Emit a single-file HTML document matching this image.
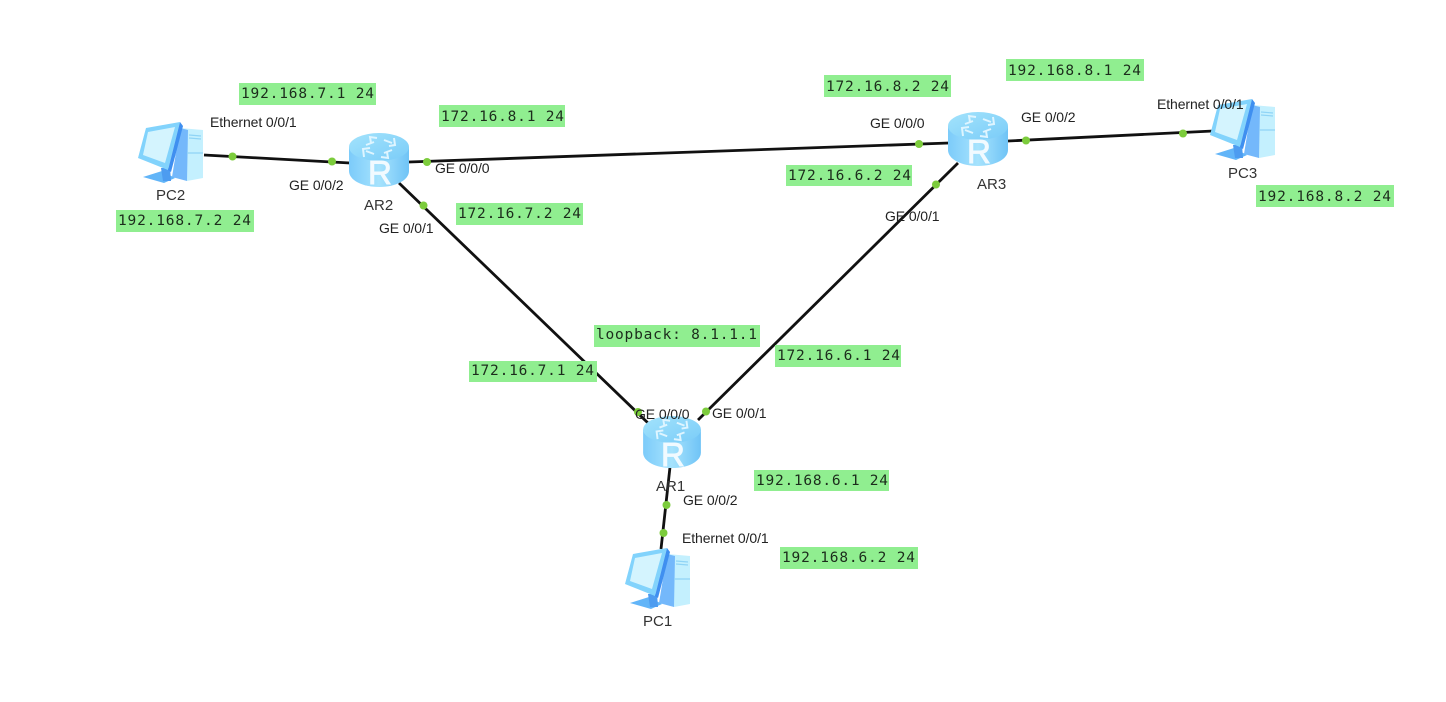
<!DOCTYPE html>
<html>
<head>
<meta charset="utf-8">
<style>
html,body{margin:0;padding:0;background:#fff;width:1446px;height:702px;overflow:hidden}
svg{display:block;filter:blur(.35px)}
.l{font-family:"Liberation Sans",sans-serif;font-size:14px;fill:#222;letter-spacing:-.1px}
.n{font-family:"Liberation Sans",sans-serif;font-size:15px;fill:#333}
.m{font-family:"DejaVu Sans Mono",monospace;font-size:14.500px;fill:#1c2c1c}
.b{fill:#90ee90}
.d{fill:#7ccc3c}
.c{stroke:#111;stroke-width:2.8;fill:none}
.r{font-family:"Liberation Sans",sans-serif;font-size:33px;fill:#f1faff;stroke:#f1faff;stroke-width:.9px}
</style>
</head>
<body>
<svg width="1446" height="702" viewBox="0 0 1446 702" xmlns="http://www.w3.org/2000/svg">
<defs>
<linearGradient id="rs" x1="0" x2="1" y1="0" y2="0">
<stop offset="0" stop-color="#7ccbfa"/><stop offset=".5" stop-color="#a6e3fd"/><stop offset="1" stop-color="#6fc3f6"/>
</linearGradient>
<linearGradient id="rt" x1="0" x2="1" y1="0" y2="1">
<stop offset="0" stop-color="#a3e3fc"/><stop offset="1" stop-color="#7accf8"/>
</linearGradient>
<symbol id="router" viewBox="0 0 60 54" overflow="visible">
<path d="M0 14V38C0 47 13 54 30 54S60 47 60 38V14Z" fill="url(#rs)"/>
<ellipse cx="30" cy="14" rx="30" ry="14" fill="url(#rt)"/>
<g stroke="#dff5ff" stroke-width="2" fill="none">
<path d="M17 12L25 9M28 5L21 4L22 10"/>
<path d="M43 17L35 20M32 24L39 25L38 19"/>
<path d="M35 7L43 10M45 5L46 12L40 13"/>
<path d="M25 21L17 18M15 24L14 16L21 15"/>
</g>
</symbol>
<symbol id="pc" viewBox="0 0 67 61" overflow="visible">
<path d="M42 6L65 8V56L49 59Z" fill="#c4f0fe"/>
<path d="M42 6L50 8L49 59L34 55Z" fill="#74b8fb"/>
<path d="M51 13L63 14M51 16L63 17M49 31L65 31" stroke="#8fd4f6" stroke-width="1.2" fill="none"/>
<path d="M5 55L24 49L37 56L26 61Z" fill="#62b5f8"/>
<path d="M23 46H32L33 59L25 59Z" fill="#4d9cf0"/>
<path d="M8 6L42 0L30 48L0 36Z" fill="#82d3fc"/>
<path d="M10 10L37 5L27 41L5 33Z" fill="#d4f4fe"/>
<path d="M42 0L45 4L33 50L30 48Z" fill="#3f8ff0"/>
</symbol>
</defs>

<!-- Connectors -->
<line class="c" x1="204" y1="155" x2="350" y2="163"/>
<line class="c" x1="409" y1="162" x2="949" y2="143"/>
<line class="c" x1="1008" y1="141" x2="1213" y2="131"/>
<line class="c" x1="399" y1="183" x2="648" y2="423"/>
<line class="c" x1="958" y1="163" x2="698" y2="420"/>
<line class="c" x1="670" y1="467" x2="661" y2="549"/>

<!-- Devices -->
<use href="#router" x="349" y="133" width="60" height="54"/>
<use href="#router" x="948" y="112" width="60" height="54"/>
<use href="#router" x="642" y="416" width="60" height="52"/>
<text class="r" x="368" y="184">R</text>
<text class="r" x="967" y="163">R</text>
<text class="r" x="661" y="466">R</text>
<use href="#pc" x="138" y="122" width="67" height="61"/>
<use href="#pc" x="1210" y="99" width="67" height="61"/>
<use href="#pc" x="625" y="548" width="67" height="61"/>

<!-- Port dots -->
<g class="d">
<circle cx="232.500" cy="156.500" r="4"/>
<circle cx="332" cy="161.500" r="4"/>
<circle cx="427" cy="162" r="4"/>
<circle cx="423.500" cy="205.500" r="4"/>
<circle cx="919" cy="144" r="4"/>
<circle cx="936" cy="184.500" r="4"/>
<circle cx="1026" cy="140.500" r="4"/>
<circle cx="1183" cy="133.500" r="4"/>
<circle cx="638" cy="412" r="4"/>
<circle cx="706" cy="411.500" r="4"/>
<circle cx="666.500" cy="505" r="4"/>
<circle cx="663.500" cy="533" r="4"/>
</g>

<!-- Green labels -->
<g class="b">
<rect x="239" y="83" width="137" height="22"/>
<rect x="116" y="210" width="138" height="22"/>
<rect x="439" y="105" width="126" height="22"/>
<rect x="456" y="203" width="127" height="22"/>
<rect x="824" y="75" width="127" height="22"/>
<rect x="1006" y="59" width="138" height="22"/>
<rect x="786" y="165" width="126" height="21"/>
<rect x="1256" y="185" width="138" height="22"/>
<rect x="594" y="325" width="166" height="22"/>
<rect x="469" y="361" width="128" height="21"/>
<rect x="775" y="345" width="126" height="22"/>
<rect x="754" y="470" width="135" height="21"/>
<rect x="780" y="547" width="138" height="22"/>
</g>
<g class="m">
<text x="241" y="98" textLength="133" lengthAdjust="spacing">192.168.7.1 24</text>
<text x="118" y="225" textLength="133" lengthAdjust="spacing">192.168.7.2 24</text>
<text x="441" y="121" textLength="123" lengthAdjust="spacing">172.16.8.1 24</text>
<text x="458" y="218" textLength="123" lengthAdjust="spacing">172.16.7.2 24</text>
<text x="826" y="91" textLength="123" lengthAdjust="spacing">172.16.8.2 24</text>
<text x="1008" y="75" textLength="133" lengthAdjust="spacing">192.168.8.1 24</text>
<text x="788" y="180" textLength="123" lengthAdjust="spacing">172.16.6.2 24</text>
<text x="1258" y="201" textLength="133" lengthAdjust="spacing">192.168.8.2 24</text>
<text x="596" y="339" textLength="161" lengthAdjust="spacing">loopback: 8.1.1.1</text>
<text x="471" y="375" textLength="123" lengthAdjust="spacing">172.16.7.1 24</text>
<text x="777" y="360" textLength="123" lengthAdjust="spacing">172.16.6.1 24</text>
<text x="756" y="485" textLength="132" lengthAdjust="spacing">192.168.6.1 24</text>
<text x="782" y="562" textLength="133" lengthAdjust="spacing">192.168.6.2 24</text>
</g>

<!-- Interface labels -->
<g class="l">
<text x="210" y="127">Ethernet 0/0/1</text>
<text x="289" y="190">GE 0/0/2</text>
<text x="435" y="173">GE 0/0/0</text>
<text x="379" y="233">GE 0/0/1</text>
<text x="870" y="128">GE 0/0/0</text>
<text x="885" y="221">GE 0/0/1</text>
<text x="1021" y="122">GE 0/0/2</text>
<text x="1157" y="109">Ethernet 0/0/1</text>
<text x="635" y="419">GE 0/0/0</text>
<text x="712" y="418">GE 0/0/1</text>
<text x="683" y="505">GE 0/0/2</text>
<text x="682" y="543">Ethernet 0/0/1</text>
</g>

<!-- Device names -->
<g class="n">
<text x="156" y="200">PC2</text>
<text x="364" y="210">AR2</text>
<text x="977" y="189">AR3</text>
<text x="1228" y="178">PC3</text>
<text x="656" y="491">AR1</text>
<text x="643" y="626">PC1</text>
</g>
</svg>
</body>
</html>
